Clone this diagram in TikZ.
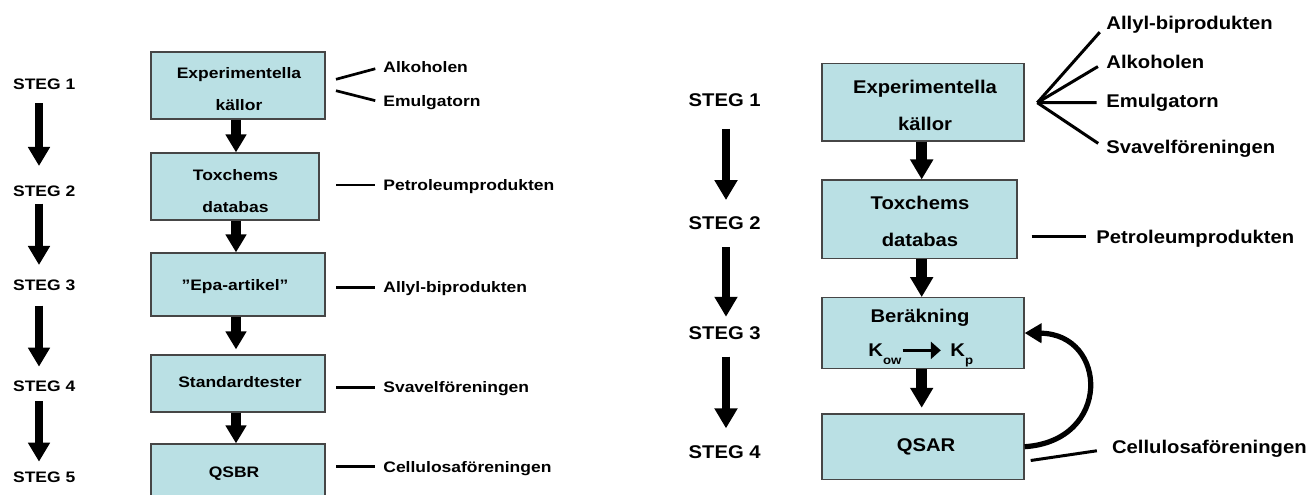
\documentclass[tikz,border=0pt]{standalone}
\usepackage{fontspec}
\setmainfont{Liberation Sans}
\newfontfamily\lfont{Liberation Sans}[FakeStretch=1.15]
\newfontfamily\rfont{Liberation Sans}[FakeStretch=1.1]
\usetikzlibrary{arrows.meta}
\definecolor{boxfill}{RGB}{186,224,228}
\definecolor{boxline}{RGB}{70,70,70}
\tikzset{
  box/.style={draw=boxline, fill=boxfill, line width=0.6pt, inner sep=0pt},
  ltxt/.style={inner sep=0pt, anchor=base, font=\lfont\bfseries\fontsize{7.6}{9}\selectfont},
  rtxt/.style={inner sep=0pt, anchor=base, font=\rfont\bfseries\fontsize{9.2}{11}\selectfont},
  ltxtw/.style={ltxt, anchor=base west},
  rtxtw/.style={rtxt, anchor=base west},
  lflow/.style={line width=5pt, -{Triangle[width=10pt,length=9pt]}},
  rflow/.style={line width=5.5pt, -{Triangle[width=11pt,length=10pt]}},
  lstep/.style={line width=4pt, -{Triangle[width=10.5pt,length=9.5pt]}},
  rstep/.style={line width=4.2pt, -{Triangle[width=11pt,length=10pt]}},
  lline/.style={line width=1.35pt},
  rline/.style={line width=1.5pt},
}
\begin{document}
\begin{tikzpicture}[x=0.5pt,y=-0.5pt]
\clip (0,0) rectangle (1313,494);

% ---------------- LEFT DIAGRAM ----------------
\node[box, minimum width=87pt, minimum height=33.5pt] (L1) at (238,85.5) {};
\node[box, minimum width=84pt, minimum height=33.5pt] (L2) at (235,186.5) {};
\node[box, minimum width=87pt, minimum height=31.5pt] (L3) at (238,284.5) {};
\node[box, minimum width=87pt, minimum height=28.5pt] (L4) at (238,383.5) {};
\node[box, minimum width=87pt, minimum height=30pt] (L5) at (238,474) {};

\node[ltxt] (L1a) at (239,78.8) {Experimentella};
\node[ltxt] (L1b) at (239,110.5) {källor};
\node[ltxt] (L2a) at (235.5,180.5) {Toxchems};
\node[ltxt] (L2b) at (235.5,212.2) {databas};
\node[ltxt] (L3a) at (235,290.5) {”Epa-artikel”};
\node[ltxt] (L4a) at (240,387.2) {Standardtester};
\node[ltxt] (L5a) at (234,477.2) {QSBR};

\coordinate (lmx) at (236,0);
\draw[lflow] (L1.south -| lmx) -- (L2.north -| lmx);
\draw[lflow] (L2.south -| lmx) -- (L3.north -| lmx);
\draw[lflow, shorten >=2.5pt] (L3.south -| lmx) -- (L4.north -| lmx);
\draw[lflow] (L4.south -| lmx) -- (L5.north -| lmx);

\node[ltxtw] (ls1) at (12.7,89.8) {STEG 1};
\node[ltxtw] (ls2) at (12.7,196.2) {STEG 2};
\node[ltxtw] (ls3) at (12.7,290.5) {STEG 3};
\node[ltxtw] (ls4) at (12.7,391.5) {STEG 4};
\node[ltxtw] (ls5) at (12.7,482.2) {STEG 5};
\coordinate (lax) at (39,0);
\draw[lstep, shorten <=6.45pt, shorten >=9.6pt] (ls1.south -| lax) -- (ls2.north -| lax);
\draw[lstep, shorten <=3.4pt, shorten >=7.25pt] (ls2.south -| lax) -- (ls3.north -| lax);
\draw[lstep, shorten <=7.25pt, shorten >=6.9pt] (ls3.south -| lax) -- (ls4.north -| lax);
\draw[lstep, shorten <=4.6pt, shorten >=4.75pt] (ls4.south -| lax) -- (ls5.north -| lax);

\node[ltxtw] (lalk) at (383,72.1) {Alkoholen};
\node[ltxtw] (lemu) at (383,106.5) {Emulgatorn};
\node[ltxtw] (lpet) at (383,190.5) {Petroleumprodukten};
\node[ltxtw] (lall) at (383,292.8) {Allyl-biprodukten};
\node[ltxtw] (lsva) at (383,392.8) {Svavelföreningen};
\node[ltxtw] (lcel) at (383,472.2) {Cellulosaföreningen};
\coordinate (lalks) at (336,79.3);
\coordinate (lemus) at (336,90.7);
\coordinate (lpets) at (336,185);
\coordinate (lalls) at (336,287.3);
\coordinate (lsvas) at (336,387.3);
\coordinate (lcels) at (336,466.7);
\draw[lline, shorten >=4pt] (lalks) -- (lalk.west);
\draw[lline, shorten >=4pt] (lemus) -- (lemu.west);
\draw[lline, shorten >=4pt] (lpets) -- (lpets -| lpet.west);
\draw[lline, shorten >=4pt] (lalls) -- (lalls -| lall.west);
\draw[lline, shorten >=4pt] (lsvas) -- (lsvas -| lsva.west);
\draw[lline, shorten >=4pt] (lcels) -- (lcels -| lcel.west);

% ---------------- RIGHT DIAGRAM ----------------
\node[box, minimum width=101pt, minimum height=38.85pt] (R1) at (923,102.2) {};
\node[box, minimum width=97.5pt, minimum height=39.15pt] (R2) at (919.5,219.2) {};
\node[box, minimum width=101pt, minimum height=35.3pt] (R3) at (923,333) {};
\node[box, minimum width=101pt, minimum height=32.65pt] (R4) at (923,446.7) {};

\node[rtxt] (R1a) at (925,93.9) {Experimentella};
\node[rtxt] (R1b) at (925,130.6) {källor};
\node[rtxt] (R2a) at (920,209.9) {Toxchems};
\node[rtxt] (R2b) at (920,246.6) {databas};
\node[rtxt] (R3a) at (920,322.3) {Beräkning};
\node[rtxtw, text depth=0pt] (kow) at (868,356.7) {K\raisebox{-3.8pt}{\fontsize{6}{6}\selectfont ow}};
\node[rtxtw, text depth=0pt] (kp) at (950,356.7) {K\raisebox{-3.8pt}{\fontsize{6}{6}\selectfont p}};
\draw[line width=1.35pt, -{Triangle[width=8.5pt,length=5pt]}, shorten <=0.4pt, shorten >=4.6pt] (kow.east) -- (kp.west);
\node[rtxt] (R4a) at (926,451.6) {QSAR};

\coordinate (rmx) at (921.7,0);
\draw[rflow] (R1.south -| rmx) -- (R2.north -| rmx);
\draw[rflow] (R2.south -| rmx) -- (R3.north -| rmx);
\draw[rflow, shorten >=2.85pt] (R3.south -| rmx) -- (R4.north -| rmx);

\node[rtxtw] (rs1) at (688.3,106.6) {STEG 1};
\node[rtxtw] (rs2) at (688.3,229.9) {STEG 2};
\node[rtxtw] (rs3) at (688.3,339.9) {STEG 3};
\node[rtxtw] (rs4) at (688.3,458.3) {STEG 4};
\coordinate (rax) at (726,0);
\draw[rstep, shorten <=10.85pt, shorten >=8.3pt] (rs1.south -| rax) -- (rs2.north -| rax);
\draw[rstep, shorten <=8.4pt, shorten >=4.95pt] (rs2.south -| rax) -- (rs3.north -| rax);
\draw[rstep, shorten <=8.05pt, shorten >=8.35pt] (rs3.south -| rax) -- (rs4.north -| rax);

\draw[line width=2.6pt, -{Triangle[width=9.5pt,length=8.5pt]}]
  (R4.east) .. controls (1112,441) and (1108,334) .. (R3.east);

\node[rtxtw] (rall) at (1106,29.9) {Allyl-biprodukten};
\node[rtxtw] (ralk) at (1106,68.3) {Alkoholen};
\node[rtxtw] (remu) at (1106,107.3) {Emulgatorn};
\node[rtxtw] (rsva) at (1106,153.3) {Svavelföreningen};
\node[rtxtw] (rpet) at (1096,243.3) {Petroleumprodukten};
\node[rtxtw] (rcel) at (1111.7,453.3) {Cellulosaföreningen};
\coordinate (fan) at (1037.3,102.7);
\draw[rline, shorten >=4.7pt] (fan) -- (rall.west);
\draw[rline, shorten >=4.7pt] (fan) -- (ralk.west);
\draw[rline, shorten >=4.7pt] (fan) -- (remu.west);
\draw[rline, shorten >=4.7pt] (fan) -- (rsva.west);
\coordinate (rpets) at (1031.7,236.7);
\draw[rline, shorten >=5pt] (rpets) -- (rpets -| rpet.west);
\coordinate (rcels) at (1030.7,460.5);
\draw[rline, shorten >=7.5pt] (rcels) -- (rcel.west);
\end{tikzpicture}
\end{document}
